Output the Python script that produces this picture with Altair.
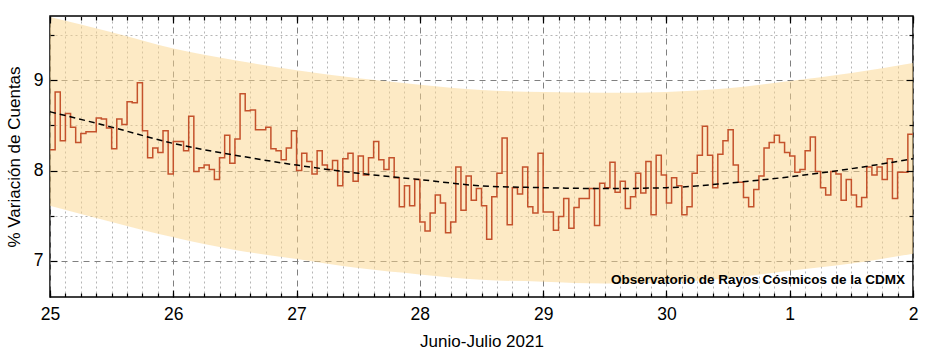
import altair as alt
import pandas as pd

# ---------------- data ----------------
day_labels = ["25", "26", "27", "28", "29", "30", "1", "2"]

# hourly counts variation (%) per day, 24 values each
d25 = [8.23, 8.87, 8.33, 8.63, 8.48, 8.31, 8.41, 8.43, 8.43, 8.58, 8.57, 8.47,
       8.24, 8.57, 8.51, 8.76, 8.75, 8.97, 8.44, 8.14, 8.25, 8.20, 8.44, 7.96]
d26 = [8.32, 8.32, 8.22, 8.60, 7.99, 8.03, 8.06, 8.01, 7.90, 8.14, 8.39, 8.08,
       8.35, 8.85, 8.66, 8.67, 8.45, 8.45, 8.48, 8.24, 8.22, 8.12, 8.25, 8.44]
d27 = [8.00, 8.19, 8.10, 7.96, 8.22, 8.06, 8.01, 8.11, 7.83, 8.13, 8.19, 7.88,
       8.16, 7.95, 8.14, 8.32, 8.12, 8.01, 8.14, 7.92, 7.60, 7.83, 7.61, 7.90]
d28 = [7.43, 7.33, 7.53, 7.73, 7.64, 7.31, 7.43, 8.04, 7.56, 7.94, 7.67, 7.80,
       7.61, 7.24, 7.71, 7.97, 8.36, 7.40, 7.81, 7.74, 8.04, 7.60, 7.53, 8.19]
d29 = [7.54, 7.54, 7.34, 7.49, 7.69, 7.36, 7.59, 7.69, 7.69, 7.80, 7.39, 7.86,
       7.81, 8.09, 7.76, 7.88, 7.58, 7.71, 7.97, 7.75, 8.10, 7.51, 8.17, 7.95]
d30 = [7.64, 7.92, 7.83, 7.51, 7.60, 7.97, 8.17, 8.49, 8.17, 7.81, 8.18, 8.33,
       8.45, 8.06, 7.87, 7.70, 7.60, 7.79, 7.94, 8.25, 8.31, 8.39, 8.31, 8.20]
d01 = [8.16, 7.98, 8.01, 8.22, 8.37, 7.99, 7.81, 7.73, 7.99, 7.96, 7.67, 7.90,
       7.73, 7.60, 7.70, 8.04, 7.95, 8.04, 7.90, 8.13, 7.69, 7.98, 7.98, 8.40]

# trend and confidence band, read every half day
trend_t = [0, 0.5, 1, 1.5, 2, 2.5, 3, 3.5, 4, 4.5, 5, 5.5, 6, 6.5, 7]
trend_v = [8.65, 8.48, 8.30, 8.17, 8.06, 7.97, 7.90, 7.83, 7.81, 7.80, 7.81, 7.86, 7.93, 8.02, 8.13]
band_hi = [9.70, 9.53, 9.35, 9.22, 9.11, 9.02, 8.95, 8.89, 8.87, 8.86, 8.87, 8.91, 8.99, 9.08, 9.19]
band_lo = [7.61, 7.43, 7.26, 7.12, 7.02, 6.92, 6.85, 6.79, 6.77, 6.75, 6.76, 6.81, 6.89, 6.97, 7.08]

annotation = "Observatorio de Rayos Cósmicos de la CDMX"

# ---------------- tables ----------------
hourly = d25 + d26 + d27 + d28 + d29 + d30 + d01
step_df = pd.DataFrame({
    "t": [i / 24 for i in range(len(hourly))] + [7],
    "v": hourly + [hourly[-1]],
})
trend_df = pd.DataFrame({"t": trend_t, "v": trend_v, "hi": band_hi, "lo": band_lo})
text_df = pd.DataFrame({"t": [7], "v": [6.6], "label": [annotation]})

FONT = "Liberation Sans"
xs = alt.Scale(domain=[0, 7], nice=False, zero=False)
ys = alt.Scale(domain=[6.6, 9.71], nice=False, zero=False)

x_major_vals = list(range(8))
x_minor_vals = [i / 8 for i in range(57) if i % 8 != 0]
x_all_minor = [i / 8 for i in range(57)]
y_major_vals = [7, 8, 9]
y_minor_vals = [7.5, 8.5, 9.5]
label_expr = "['25','26','27','28','29','30','1','2'][round(datum.value)]"


def tick_axis(orient, values, size):
    return alt.Axis(orient=orient, values=values, ticks=True, tickSize=size,
                    tickColor="black", tickWidth=1.2, offset=-size,
                    labels=False, domain=False, grid=False, title=None, zindex=1)


# band with minor grids
band = alt.Chart(trend_df).mark_area(color="#FBD68C", opacity=0.5, interpolate="monotone").encode(
    x=alt.X("t:Q", scale=xs, axis=alt.Axis(orient="bottom", values=x_minor_vals, grid=True,
                                         gridColor="#b5b5b5", gridDash=[2, 3], gridWidth=1,
                                         ticks=False, labels=False, domain=False, title=None)),
    y=alt.Y("lo:Q", scale=ys, axis=alt.Axis(orient="left", values=y_minor_vals, grid=True,
                                          gridColor="#b5b5b5", gridDash=[2, 3], gridWidth=1,
                                          ticks=False, labels=False, domain=False, title=None)),
    y2="hi:Q",
)

step = alt.Chart(step_df).mark_line(interpolate="step-after", color="#C4522C", strokeWidth=1.5).encode(
    x=alt.X("t:Q", scale=xs, axis=alt.Axis(
        orient="bottom", values=x_major_vals, grid=True, gridColor="#808080", gridDash=[6, 5],
        gridWidth=1, ticks=False, labels=True, labelExpr=label_expr, labelFont=FONT,
        labelFontSize=17.5, labelColor="black", labelPadding=8, labelFlush=False, labelOverlap=False,
        domain=False, title="Junio-Julio 2021", titleFont=FONT, titleFontSize=17,
        titleFontWeight="normal", titleColor="black", titlePadding=11)),
    y=alt.Y("v:Q", scale=ys, axis=alt.Axis(
        orient="left", values=y_major_vals, grid=True, gridColor="#808080", gridDash=[6, 5],
        gridWidth=1, ticks=False, labels=True, labelFont=FONT, labelFontSize=17.5,
        labelColor="black", labelPadding=7, domain=False, title="% Variación de Cuentas",
        titleFont=FONT, titleFontSize=17, titleFontWeight="normal", titleColor="black",
        titlePadding=10)),
)

trend = alt.Chart(trend_df).mark_line(color="black", strokeDash=[6, 4], strokeWidth=1.5,
                                      interpolate="monotone").encode(
    x=alt.X("t:Q", scale=xs, axis=tick_axis("bottom", x_all_minor, 4)),
    y=alt.Y("v:Q", scale=ys, axis=tick_axis("left", y_minor_vals, 4)),
)

dummy1 = alt.Chart(trend_df).mark_line(opacity=0).encode(
    x=alt.X("t:Q", scale=xs, axis=tick_axis("bottom", x_major_vals, 7)),
    y=alt.Y("v:Q", scale=ys, axis=tick_axis("left", y_major_vals, 7)),
)
dummy2 = alt.Chart(trend_df).mark_line(opacity=0).encode(
    x=alt.X("t:Q", scale=xs, axis=tick_axis("top", x_all_minor, 4)),
    y=alt.Y("v:Q", scale=ys, axis=tick_axis("right", y_minor_vals, 4)),
)
dummy3 = alt.Chart(trend_df).mark_line(opacity=0).encode(
    x=alt.X("t:Q", scale=xs, axis=tick_axis("top", x_major_vals, 7)),
    y=alt.Y("v:Q", scale=ys, axis=tick_axis("right", y_major_vals, 7)),
)

label = alt.Chart(text_df).mark_text(
    align="right", baseline="bottom", dx=-8, dy=-10, font=FONT, fontSize=13.5,
    fontWeight="bold", color="black"
).encode(
    x=alt.X("t:Q", scale=xs, axis=None),
    y=alt.Y("v:Q", scale=ys, axis=None),
    text="label:N",
)

chart = alt.layer(band, step, trend, dummy1, dummy2, dummy3, label).resolve_axis(
    x="independent", y="independent"
).properties(
    width=863, height=281,
    autosize=alt.AutoSizeParams(type="none"),
    padding={"left": 50, "top": 16, "right": 12, "bottom": 58},
    background="white",
).configure_view(stroke="black", strokeWidth=1.5)

chart.save("out.html", embed_options={"renderer": "svg", "actions": False})
